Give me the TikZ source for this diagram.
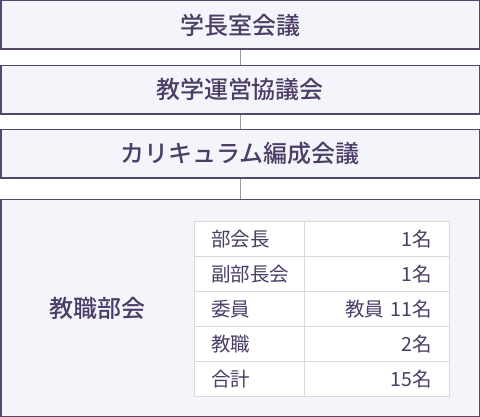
\documentclass[tikz,border=0pt]{standalone}
\usepackage{fontspec}
\setmainfont{Noto Sans CJK JP}
\newfontfamily\medface{Noto Sans CJK JP Medium}
\definecolor{boxline}{HTML}{54466F}
\definecolor{boxfill}{HTML}{F4F5FA}
\definecolor{txt}{HTML}{4B3D66}
\definecolor{conn}{HTML}{9A9A9A}
\definecolor{tline}{HTML}{D9D9D9}
\begin{document}
\begin{tikzpicture}[x=1pt,y=-1pt,
  orgbox/.style={draw=boxline, fill=boxfill, line width=1.5pt, minimum width=478.5pt, inner sep=0pt,
     text=txt, font=\fontsize{24}{28}\medface},
  conline/.style={draw=conn, line width=1pt},
  lcell/.style={draw=tline, fill=white, line width=1pt, anchor=north west, minimum height=35pt,
     inner xsep=17pt, inner ysep=0pt, text width=76.8pt, align=left, text=txt,
     font=\fontsize{19.5}{22}\selectfont},
  rcell/.style={draw=tline, fill=white, line width=1pt, anchor=north west, minimum height=35pt,
     inner xsep=17pt, inner ysep=0pt, text width=110.2pt, align=right, text=txt,
     font=\fontsize{19.5}{22}\selectfont}]
\useasboundingbox (0,0) rectangle (480,417);
\node[orgbox, minimum height=48.5pt] (b1) at (240,25) {学長室会議};
\node[orgbox, minimum height=48.5pt] (b2) at (240,89.8) {教学運営協議会};
\node[orgbox, minimum height=48.5pt] (b3) at (240,153.8) {カリキュラム編成会議};
\node[orgbox, minimum height=217pt] (b4) at (240,307.8) {};
\node[text=txt, font=\fontsize{24}{28}\medface] (lab) at (97,308.3) {教職部会};
\draw[conline] (b1.south) -- (b2.north);
\draw[conline] (b2.south) -- (b3.north);
\draw[conline] (b3.south) -- (b4.north);
\node[lcell] (l1) at (193.5,221) {部会長};
\node[rcell] (r1) at (304.3,221) {1名};
\node[lcell] (l2) at (193.5,256) {副部長会};
\node[rcell] (r2) at (304.3,256) {1名};
\node[lcell] (l3) at (193.5,291) {委員};
\node[rcell] (r3) at (304.3,291) {教員 11名};
\node[lcell] (l4) at (193.5,326) {教職};
\node[rcell] (r4) at (304.3,326) {2名};
\node[lcell] (l5) at (193.5,361) {合計};
\node[rcell] (r5) at (304.3,361) {15名};
\end{tikzpicture}
\end{document}
